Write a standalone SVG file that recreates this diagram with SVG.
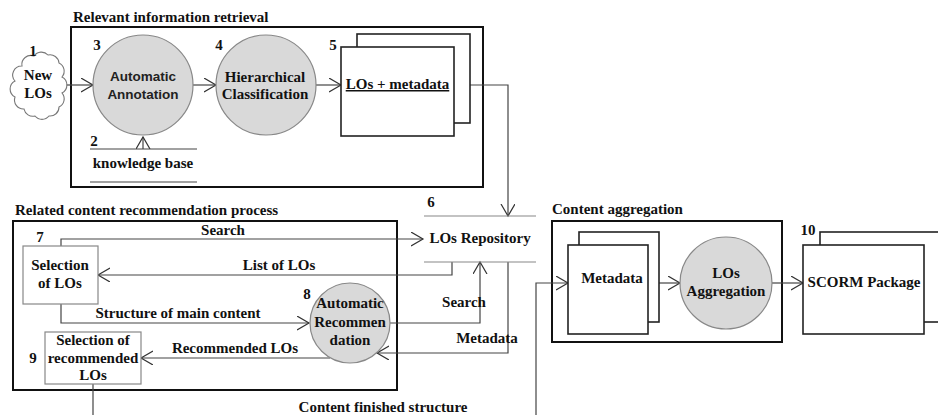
<svg xmlns="http://www.w3.org/2000/svg" width="938" height="415" viewBox="0 0 938 415">
<defs>
<marker id="arr" markerUnits="userSpaceOnUse" markerWidth="14" markerHeight="16" refX="12" refY="7" orient="auto">
<path d="M0,0 L12,7 L0,14" fill="none" stroke="#333" stroke-width="1.2"/>
</marker>
<style>
.t{font-family:"Liberation Serif","Times New Roman",serif;font-weight:bold;font-size:15px;fill:#111}
.s{font-family:"Liberation Sans",Arial,sans-serif;font-weight:bold;font-size:13.5px;fill:#222}
.m{text-anchor:middle}
.box{fill:none;stroke:#111;stroke-width:2}
.rect{fill:#fff;stroke:#222;stroke-width:1.6}
.lrect{fill:#fff;stroke:#888;stroke-width:1.2}
.proc{fill:#d9d9d9;stroke:#888;stroke-width:1.2}
.c{fill:none;stroke:#444;stroke-width:1.2}
.a{marker-end:url(#arr)}
.store{stroke:#888;stroke-width:1.2}
</style>
</defs>
<rect width="938" height="415" fill="#fff"/>

<g id="group-retrieval">
<text class="t" x="73" y="22">Relevant information retrieval</text>
<rect class="box" x="71" y="27" width="412" height="160"/>
</g>
<g id="group-recommendation">
<text class="t" x="15" y="215">Related content recommendation process</text>
<rect class="box" x="13" y="221" width="384" height="169"/>
</g>
<g id="group-aggregation">
<text class="t" x="552" y="214">Content aggregation</text>
<rect class="box" x="552" y="221" width="230" height="121"/>
</g>

<g id="connectors">
<line class="c a" x1="63" y1="85" x2="93" y2="85"/>
<line class="c a" x1="193" y1="85" x2="216" y2="85"/>
<line class="c a" x1="143" y1="149" x2="143" y2="137"/>
<line class="c a" x1="316" y1="85" x2="341" y2="85"/>
<polyline class="c a" points="470,85 508,85 508,216"/>
<polyline class="c a" points="61,246 61,239 423,239"/>
<polyline class="c a" points="452,262 452,275 98,275"/>
<polyline class="c a" points="61,304 61,323 309,323"/>
<polyline class="c a" points="389,323 480,323 480,262"/>
<polyline class="c a" points="508,262 508,353 377,353"/>
<line class="c a" x1="330" y1="358" x2="141" y2="358"/>
<line class="c" x1="93" y1="384" x2="93" y2="415"/>
<polyline class="c a" points="536,415 536,283 568,283"/>
<line class="c a" x1="659" y1="283" x2="680" y2="283"/>
<line class="c a" x1="772" y1="283" x2="803" y2="283"/>
<text class="t m" x="223" y="235">Search</text>
<text class="t m" x="279" y="270">List of LOs</text>
<text class="t m" x="178" y="318">Structure of main content</text>
<text class="t m" x="235" y="353">Recommended LOs</text>
<text class="t m" x="464" y="307">Search</text>
<text class="t m" x="487" y="343">Metadata</text>
<text class="t m" x="383" y="412">Content finished structure</text>
</g>

<g id="node-1">
<path d="M22,66 A9,9 0 0 1 34,56 A9,9 0 0 1 48,55 A9,9 0 0 1 59,63 A9,9 0 0 1 62,77 A9,9 0 0 1 62,93 A9,9 0 0 1 59,107 A9,9 0 0 1 49,116 A9,9 0 0 1 35,116 A9,9 0 0 1 24,109 A9,9 0 0 1 15,97 A9,9 0 0 1 15,81 A9,9 0 0 1 22,66 Z" fill="#fff" stroke="#777" stroke-width="1.1"/>
<text class="t m" x="33" y="56">1</text>
<text class="t m" x="38" y="80">New</text>
<text class="t m" x="38" y="98">LOs</text>
</g>

<g id="node-2">
<line class="c" x1="90" y1="149" x2="197" y2="149"/>
<line class="c" x1="90" y1="182" x2="197" y2="182"/>
<text class="t m" x="94" y="146">2</text>
<text class="t m" x="143" y="168">knowledge base</text>
</g>

<g id="node-3">
<circle class="proc" cx="143" cy="85" r="50"/>
<text class="t m" x="97" y="50">3</text>
<text class="s m" x="143" y="81">Automatic</text>
<text class="s m" x="143" y="99">Annotation</text>
</g>

<g id="node-4">
<circle class="proc" cx="266" cy="85" r="50"/>
<text class="t m" x="219" y="50">4</text>
<text class="t m" x="265" y="82">Hierarchical</text>
<text class="t m" x="265" y="99">Classification</text>
</g>

<g id="node-5">
<rect class="rect" x="357" y="34" width="113" height="89"/>
<rect class="rect" x="341" y="47" width="113" height="89"/>
<text class="t m" x="333" y="50">5</text>
<text class="t m" x="397.5" y="89" text-decoration="underline">LOs + metadata</text>
</g>

<g id="node-6">
<line class="store" x1="424" y1="216" x2="536" y2="216"/>
<line class="store" x1="424" y1="262" x2="536" y2="262"/>
<text class="t m" x="431" y="207">6</text>
<text class="t m" x="480" y="243">LOs Repository</text>
</g>

<g id="node-7">
<rect class="lrect" x="23" y="246" width="75" height="58"/>
<text class="t m" x="40" y="242">7</text>
<text class="t m" x="60" y="270">Selection</text>
<text class="t m" x="60" y="288">of LOs</text>
</g>

<g id="node-8">
<circle class="proc" cx="350" cy="323" r="40"/>
<text class="t m" x="307" y="299">8</text>
<text class="t m" x="350" y="308">Automatic</text>
<text class="t m" x="350" y="327">Recommen</text>
<text class="t m" x="350" y="345">dation</text>
</g>

<g id="node-9">
<rect class="lrect" x="45" y="332" width="96" height="52"/>
<text class="t m" x="33" y="363">9</text>
<text class="t m" x="93" y="345">Selection of</text>
<text class="t m" x="93" y="363">recommended</text>
<text class="t m" x="93" y="380">LOs</text>
</g>

<g id="node-metadata">
<rect class="rect" x="579" y="232" width="80" height="90"/>
<rect class="rect" x="568" y="245" width="80" height="89"/>
<text class="t m" x="612" y="283">Metadata</text>
</g>

<g id="node-aggregation">
<circle class="proc" cx="726" cy="283" r="46"/>
<text class="t m" x="726" y="278">LOs</text>
<text class="t m" x="726" y="296">Aggregation</text>
</g>

<g id="node-10">
<rect class="rect" x="820" y="232" width="140" height="90"/>
<rect class="rect" x="803" y="245" width="121" height="89"/>
<text class="t m" x="808" y="235">10</text>
<text class="t m" x="864" y="287">SCORM Package</text>
</g>
</svg>
